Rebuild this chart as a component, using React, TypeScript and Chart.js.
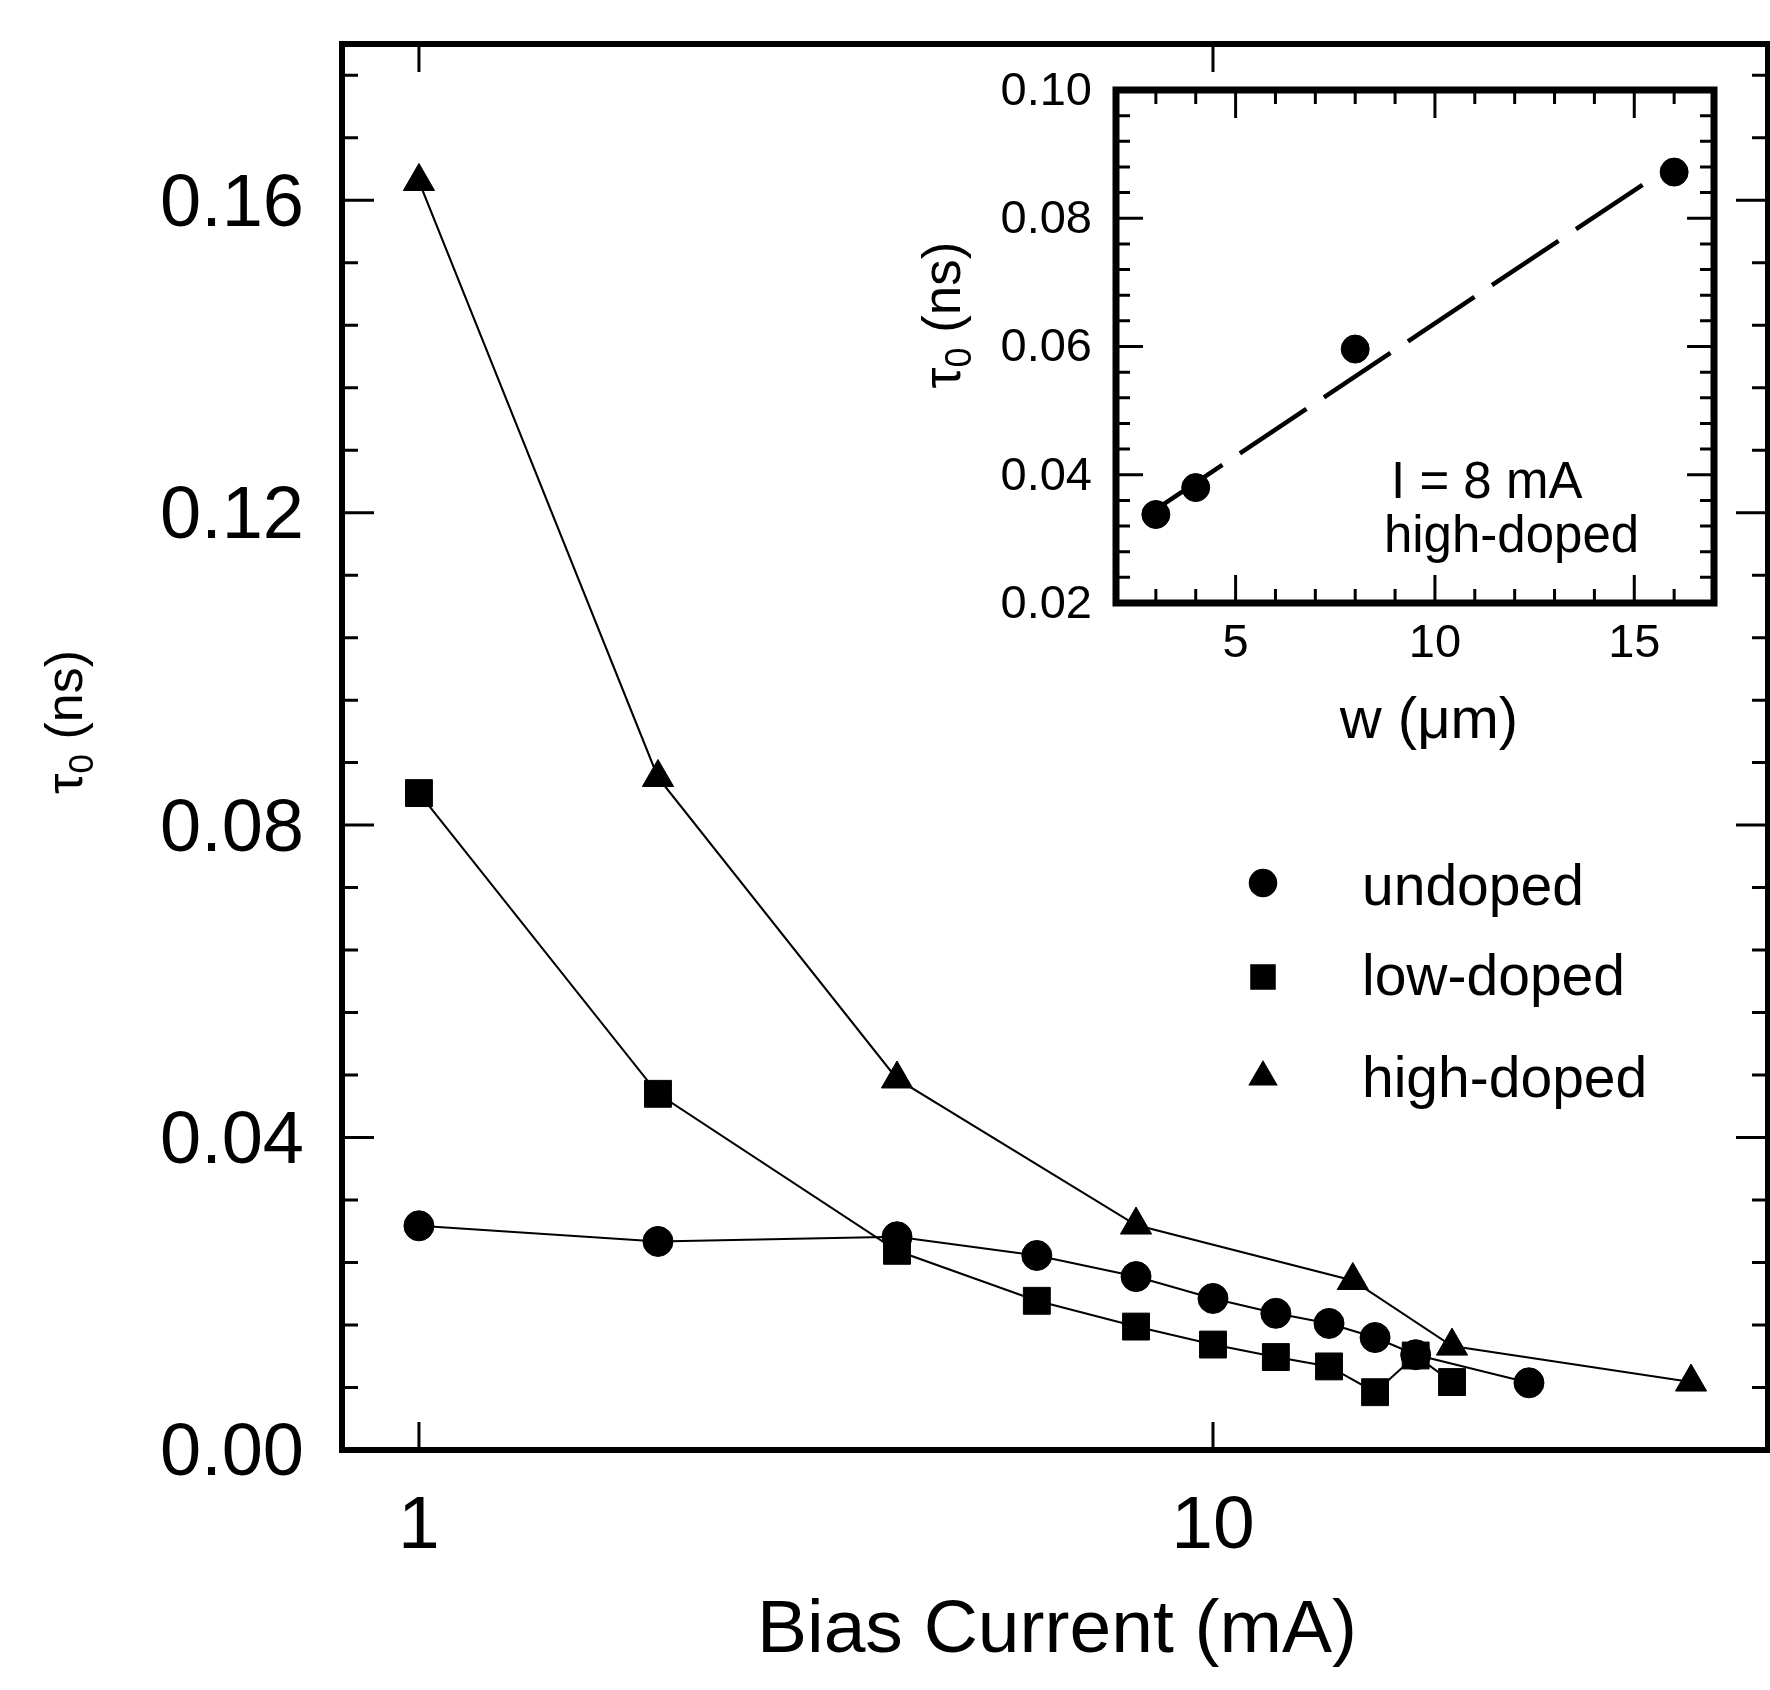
import React, { useEffect, useRef } from 'react';
import { Chart, registerables } from 'chart.js';

Chart.register(...registerables);

const FONT = '"Liberation Sans", Arial, Helvetica, sans-serif';
const W = 1770;
const H = 1690;

// ---------- Main plot data (Bias current in mA, tau0 in ns) ----------
const undopedI = [1, 2, 4, 6, 8, 10, 12, 14, 16, 18, 25];
const undopedTau = [0.0287, 0.0267, 0.0273, 0.0249, 0.0222, 0.0194, 0.0175, 0.0162, 0.0144, 0.0122, 0.0086];
const lowDopedI = [1, 2, 4, 6, 8, 10, 12, 14, 16, 18, 20];
const lowDopedTau = [0.0841, 0.0456, 0.0255, 0.0191, 0.0158, 0.0135, 0.0119, 0.0107, 0.0074, 0.0121, 0.0087];
const highDopedI = [1, 2, 4, 8, 15, 20, 40];
const highDopedTau = [0.1624, 0.0861, 0.0475, 0.0288, 0.0217, 0.0133, 0.0087];

const mainXTicks = [1, 10];
const mainYTicks = [0, 0.04, 0.08, 0.12, 0.16];
const mainXRange = [0.8, 50];
const mainYRange = [0, 0.18];
const legendLabels = ['undoped', 'low-doped', 'high-doped'];
const mainXTitle = 'Bias Current (mA)';

// ---------- Inset data (stripe width w in um, tau0 in ns) ----------
const insetW = [3, 4, 8, 16];
const insetTau = [0.0338, 0.038, 0.0596, 0.0872];
const fitW = [3, 15.3];
const fitTau = [0.0346, 0.0856];
const insetXTicks = [5, 10, 15];
const insetYTicks = [0.02, 0.04, 0.06, 0.08, 0.1];
const insetXRange = [2, 17];
const insetYRange = [0.02, 0.1];
const insetNote = ['I = 8 mA', 'high-doped'];
const insetNoteW = [8.9, 8.72];
const insetNoteTau = [0.0364, 0.028];
const insetXTitle = 'w (\u03bcm)';

function stepValues(start: number, end: number, step: number, skip: number[]) {
  const out: number[] = [];
  const n = Math.round((end - start) / step);
  for (let i = 0; i <= n; i++) {
    const v = +(start + i * step).toFixed(6);
    if (!skip.some((s) => Math.abs(s - v) < step / 10)) out.push(v);
  }
  return out;
}

const mainYMinor = stepValues(0, 0.176, 0.008, mainYTicks);
const insetYMinor = stepValues(0.02, 0.1, 0.004, insetYTicks);
const insetXMinor = stepValues(3, 16, 1, insetXTicks);

const toPoints = (xs: number[], ys: number[]) => xs.map((x, i) => ({ x, y: ys[i] }));

type FrameCfg = {
  xMajor: number[];
  xMinor: number[];
  yMajor: number[];
  yMinor: number[];
  xMajorLen: number;
  yMajorLen: number;
  minorLen: number;
  tickWidth: number;
  borderWidth: number;
};

function makeFramePlugin(id: string, cfg: FrameCfg) {
  return {
    id,
    afterDatasetsDraw(chart: any) {
      const { ctx, chartArea: a } = chart;
      const xs = chart.scales.x;
      const ys = chart.scales.y;
      ctx.save();
      ctx.strokeStyle = '#000';
      ctx.lineCap = 'butt';
      ctx.lineWidth = cfg.tickWidth;
      ctx.beginPath();
      const vt = (v: number, len: number) => {
        const p = xs.getPixelForValue(v);
        ctx.moveTo(p, a.bottom);
        ctx.lineTo(p, a.bottom - len);
        ctx.moveTo(p, a.top);
        ctx.lineTo(p, a.top + len);
      };
      const ht = (v: number, len: number) => {
        const p = ys.getPixelForValue(v);
        ctx.moveTo(a.left, p);
        ctx.lineTo(a.left + len, p);
        ctx.moveTo(a.right, p);
        ctx.lineTo(a.right - len, p);
      };
      cfg.xMajor.forEach((v) => vt(v, cfg.xMajorLen));
      cfg.xMinor.forEach((v) => vt(v, cfg.minorLen));
      cfg.yMajor.forEach((v) => ht(v, cfg.yMajorLen));
      cfg.yMinor.forEach((v) => ht(v, cfg.minorLen));
      ctx.stroke();
      ctx.lineWidth = cfg.borderWidth;
      ctx.strokeRect(a.left, a.top, a.right - a.left, a.bottom - a.top);
      ctx.restore();
    },
  };
}

function drawTauTitle(ctx: CanvasRenderingContext2D, cx: number, cy: number, size: number) {
  ctx.save();
  ctx.translate(cx, cy);
  ctx.rotate(-Math.PI / 2);
  ctx.fillStyle = '#000';
  ctx.textBaseline = 'alphabetic';
  ctx.textAlign = 'left';
  const mainFont = `${size}px ${FONT}`;
  const subFont = `${Math.round(size * 0.68)}px ${FONT}`;
  ctx.font = mainFont;
  const wTau = ctx.measureText('\u03c4').width;
  const wRest = ctx.measureText(' (ns)').width;
  ctx.font = subFont;
  const wSub = ctx.measureText('0').width;
  const total = wTau + wSub + wRest;
  const base = size * 0.26;
  let x = -total / 2;
  ctx.font = mainFont;
  ctx.fillText('\u03c4', x, base);
  x += wTau;
  ctx.font = subFont;
  ctx.fillText('0', x, base + size * 0.22);
  x += wSub;
  ctx.font = mainFont;
  ctx.fillText(' (ns)', x, base);
  ctx.restore();
}

function drawMarker(ctx: CanvasRenderingContext2D, style: string, x: number, y: number, r: number) {
  ctx.beginPath();
  if (style === 'circle') {
    ctx.arc(x, y, r, 0, Math.PI * 2);
  } else if (style === 'rect') {
    const s = r * Math.SQRT1_2;
    ctx.rect(x - s, y - s, 2 * s, 2 * s);
  } else {
    const k = Math.sin(Math.PI / 3) * r;
    ctx.moveTo(x, y - r);
    ctx.lineTo(x + k, y + r / 2);
    ctx.lineTo(x - k, y + r / 2);
    ctx.closePath();
  }
  ctx.fill();
}

const markerStyles = ['circle', 'rect', 'triangle'];
const markerRadii = [15, 19, 18];

const mainTextPlugin = {
  id: 'mainText',
  afterDraw(chart: any) {
    const { ctx } = chart;
    ctx.save();
    ctx.fillStyle = '#000';
    // x title
    ctx.font = `75px ${FONT}`;
    ctx.textAlign = 'center';
    ctx.textBaseline = 'middle';
    ctx.fillText(mainXTitle, 1057, 1631);
    // y title
    drawTauTitle(ctx, 68, 722, 52);
    // legend
    const markerY = [883, 977, 1077];
    const textBase = [905, 995, 1097];
    ctx.font = `57px ${FONT}`;
    ctx.textAlign = 'left';
    ctx.textBaseline = 'alphabetic';
    legendLabels.forEach((lab, i) => {
      drawMarker(ctx, markerStyles[i], 1263, markerY[i], markerRadii[i] * 0.95);
      ctx.fillText(lab, 1362, textBase[i]);
    });
    ctx.restore();
  },
};

const insetTextPlugin = {
  id: 'insetText',
  afterDraw(chart: any) {
    const { ctx } = chart;
    const xs = chart.scales.x;
    const ys = chart.scales.y;
    ctx.save();
    ctx.fillStyle = '#000';
    ctx.font = `58px ${FONT}`;
    ctx.textAlign = 'center';
    ctx.textBaseline = 'middle';
    ctx.fillText(insetXTitle, 1429, 722);
    drawTauTitle(ctx, 946, 315, 53);
    ctx.font = `51px ${FONT}`;
    ctx.textAlign = 'left';
    ctx.textBaseline = 'alphabetic';
    insetNote.forEach((t, i) => {
      ctx.fillText(t, xs.getPixelForValue(insetNoteW[i]), ys.getPixelForValue(insetNoteTau[i]));
    });
    ctx.restore();
  },
};

const noGrid = { display: false, drawTicks: false };
const noBorder = { display: false };

const zeroPad = (s: any) => {
  s.paddingTop = 0;
  s.paddingBottom = 0;
  s.paddingLeft = 0;
  s.paddingRight = 0;
};

export default function App() {
  const mainRef = useRef<HTMLCanvasElement | null>(null);
  const insetRef = useRef<HTMLCanvasElement | null>(null);

  useEffect(() => {
    if (!mainRef.current || !insetRef.current) return;

    const lineDs = (label: string, xs: number[], ys: number[], idx: number) => ({
      label,
      data: toPoints(xs, ys),
      showLine: true,
      borderColor: '#000',
      borderWidth: 2.1,
      backgroundColor: '#000',
      pointStyle: markerStyles[idx],
      pointRadius: markerRadii[idx],
      pointBackgroundColor: '#000',
      pointBorderColor: '#000',
      pointBorderWidth: 1,
      tension: 0,
    });

    const main = new Chart(mainRef.current, {
      type: 'scatter',
      data: {
        datasets: [
          lineDs(legendLabels[0], undopedI, undopedTau, 0),
          lineDs(legendLabels[1], lowDopedI, lowDopedTau, 1),
          lineDs(legendLabels[2], highDopedI, highDopedTau, 2),
        ],
      },
      options: {
        responsive: false,
        animation: false,
        devicePixelRatio: 1,
        events: [],
        layout: { autoPadding: false, padding: { left: 0, top: 44, right: 2, bottom: 0 } },
        plugins: { legend: { display: false }, tooltip: { enabled: false }, title: { display: false } },
        scales: {
          x: {
            type: 'logarithmic',
            position: 'bottom',
            min: mainXRange[0],
            max: mainXRange[1],
            grid: noGrid,
            border: noBorder,
            ticks: {
              autoSkip: false,
              maxRotation: 0,
              minRotation: 0,
              padding: 32,
              color: '#000',
              font: { family: FONT, size: 75 },
              callback: (v: any) => String(v),
            },
            afterBuildTicks: (s: any) => {
              s.ticks = mainXTicks.map((v) => ({ value: v }));
            },
            afterFit: (s: any) => {
              s.height = 240;
              zeroPad(s);
            },
          },
          y: {
            type: 'linear',
            position: 'left',
            min: mainYRange[0],
            max: mainYRange[1],
            grid: noGrid,
            border: noBorder,
            ticks: {
              padding: 38,
              labelOffset: 5,
              color: '#000',
              font: { family: FONT, size: 74 },
              callback: (v: any) => Number(v).toFixed(2),
            },
            afterBuildTicks: (s: any) => {
              s.ticks = mainYTicks.map((v) => ({ value: v }));
            },
            afterFit: (s: any) => {
              s.width = 342;
              zeroPad(s);
            },
          },
        },
      } as any,
      plugins: [
        makeFramePlugin('mainFrame', {
          xMajor: mainXTicks,
          xMinor: [],
          yMajor: mainYTicks,
          yMinor: mainYMinor,
          xMajorLen: 28,
          yMajorLen: 32,
          minorLen: 16,
          tickWidth: 3,
          borderWidth: 6,
        }),
        mainTextPlugin,
      ],
    } as any);

    const inset = new Chart(insetRef.current, {
      type: 'scatter',
      data: {
        datasets: [
          {
            label: 'fit',
            data: toPoints(fitW, fitTau),
            showLine: true,
            borderColor: '#000',
            borderWidth: 4.5,
            borderDash: [80, 21],
            pointRadius: 0,
            tension: 0,
          },
          {
            label: 'I = 8 mA high-doped',
            data: toPoints(insetW, insetTau),
            showLine: false,
            pointStyle: 'circle',
            pointRadius: 14,
            pointBackgroundColor: '#000',
            pointBorderColor: '#000',
            backgroundColor: '#000',
          },
        ],
      },
      options: {
        responsive: false,
        animation: false,
        devicePixelRatio: 1,
        events: [],
        layout: { autoPadding: false, padding: { left: 916, top: 90, right: 56, bottom: 937 } },
        plugins: { legend: { display: false }, tooltip: { enabled: false }, title: { display: false } },
        scales: {
          x: {
            type: 'linear',
            position: 'bottom',
            min: insetXRange[0],
            max: insetXRange[1],
            grid: noGrid,
            border: noBorder,
            ticks: {
              autoSkip: false,
              maxRotation: 0,
              padding: 13,
              color: '#000',
              font: { family: FONT, size: 47 },
              callback: (v: any) => String(v),
            },
            afterBuildTicks: (s: any) => {
              s.ticks = insetXTicks.map((v) => ({ value: v }));
            },
            afterFit: (s: any) => {
              s.height = 150;
              zeroPad(s);
            },
          },
          y: {
            type: 'linear',
            position: 'left',
            min: insetYRange[0],
            max: insetYRange[1],
            grid: noGrid,
            border: noBorder,
            ticks: {
              padding: 24,
              labelOffset: 2,
              color: '#000',
              font: { family: FONT, size: 47 },
              callback: (v: any) => Number(v).toFixed(2),
            },
            afterBuildTicks: (s: any) => {
              s.ticks = insetYTicks.map((v) => ({ value: v }));
            },
            afterFit: (s: any) => {
              s.width = 200;
              zeroPad(s);
            },
          },
        },
      } as any,
      plugins: [
        makeFramePlugin('insetFrame', {
          xMajor: insetXTicks,
          xMinor: insetXMinor,
          yMajor: insetYTicks,
          yMinor: insetYMinor,
          xMajorLen: 28,
          yMajorLen: 27,
          minorLen: 14,
          tickWidth: 3,
          borderWidth: 7,
        }),
        insetTextPlugin,
      ],
    } as any);

    return () => {
      main.destroy();
      inset.destroy();
    };
  }, []);

  return (
    <div style={{ position: 'absolute', left: 0, top: 0, width: W, height: H, background: '#fff' }}>
      <canvas
        ref={mainRef}
        width={W}
        height={H}
        style={{ position: 'absolute', left: 0, top: 0, width: W, height: H, display: 'block' }}
      />
      <canvas
        ref={insetRef}
        width={W}
        height={H}
        style={{ position: 'absolute', left: 0, top: 0, width: W, height: H, display: 'block' }}
      />
    </div>
  );
}
